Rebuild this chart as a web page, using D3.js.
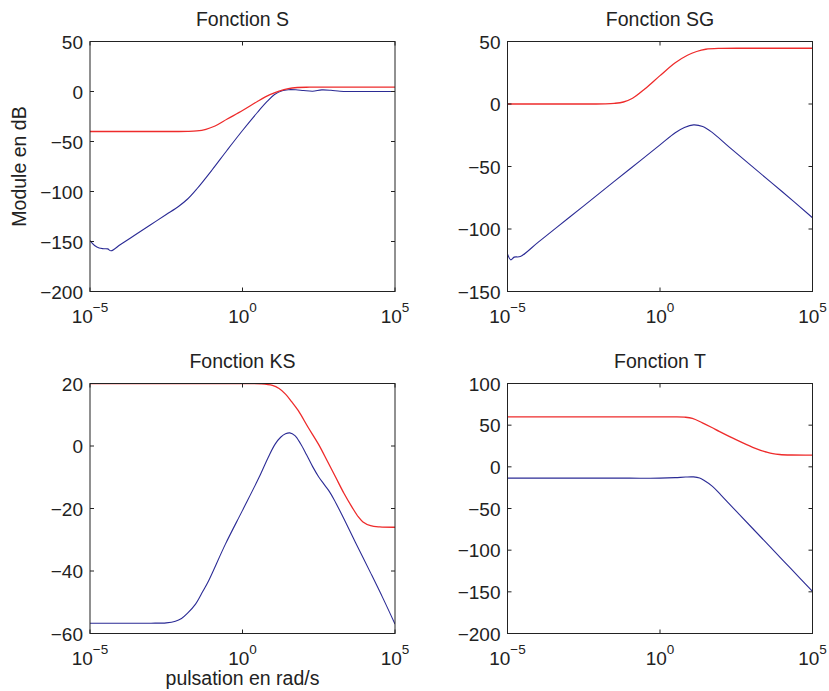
<!DOCTYPE html>
<html>
<head>
<meta charset="utf-8">
<script src="https://cdn.jsdelivr.net/npm/d3@7"></script>
<style>
  html, body { margin: 0; padding: 0; background: #fff; }
  svg { display: block; }
  text { font-family: "Liberation Sans", Arial, Helvetica, sans-serif; fill: #222; }
</style>
</head>
<body>
<script>
// ---- Data: [log10(pulsation), module in dB] ----
const sRed = [[-5,-40],[-4,-40],[-3,-40],[-2.2,-40],[-1.8,-39.9],[-1.5,-39.4],[-1.2,-37.8],[-0.9,-34.5],[-0.5,-27.5],[0,-19],[0.5,-9.8],[0.9,-3.2],[1.2,0.4],[1.5,2.9],[1.8,4],[2.2,4.3],[3,4.4],[4,4.4],[5,4.4]];
const sBlue = [[-5,-149],[-4.85,-154],[-4.7,-156.6],[-4.55,-157.2],[-4.42,-157.4],[-4.31,-159.3],[-4,-153],[-3.5,-143],[-3,-133],[-2.5,-123],[-2.1,-115],[-1.8,-107.5],[-1.5,-97.5],[-1,-78.5],[-0.5,-58.5],[0,-39],[0.5,-20.5],[0.8,-10.2],[1.05,-3],[1.3,0.8],[1.5,1.8],[1.75,1.7],[2,1],[2.3,0.3],[2.6,1.6],[2.9,1.2],[3.2,0.2],[3.6,0],[4.3,0],[5,0]];

const sgRed = [[-5,0],[-4,0],[-3,0],[-2.2,0],[-1.8,0.1],[-1.5,0.5],[-1.2,1.6],[-0.9,4.6],[-0.5,12],[0,22.7],[0.5,33],[0.9,39],[1.2,42],[1.5,43.8],[2,44.5],[3,44.6],[4,44.6],[5,44.6]];
const sgBlue = [[-5,-120],[-4.89,-124.7],[-4.78,-122.5],[-4.58,-122],[-4,-110.7],[-3,-91.2],[-2,-71.7],[-1,-52.2],[0,-32.7],[0.5,-23],[0.8,-18.8],[1.1,-16.7],[1.4,-18],[1.7,-22.5],[2.27,-34.5],[3,-49.5],[4,-70],[5,-91]];

const ksRed = [[-5,20],[-4,20],[-3,20],[-2,20],[-1,20],[0,20],[0.6,19.9],[0.98,19.4],[1.2,18.4],[1.41,16.6],[1.61,14.2],[1.83,11.3],[2.15,6],[2.49,0.6],[2.78,-4.8],[3.06,-10.1],[3.33,-15.2],[3.6,-19.7],[3.8,-22.7],[3.95,-24.3],[4.2,-25.5],[4.5,-25.9],[5,-26]];
const ksBlue = [[-5,-56.7],[-4,-56.7],[-3,-56.7],[-2.5,-56.6],[-2.2,-56.1],[-2,-55.2],[-1.8,-53.5],[-1.54,-50.6],[-1.3,-46.5],[-1.11,-43.1],[-0.56,-31.4],[0,-20.6],[0.54,-10.1],[0.85,-3.5],[1.07,0.6],[1.25,2.8],[1.41,3.9],[1.55,4.2],[1.72,3.3],[1.9,0.8],[2.1,-2.8],[2.3,-6.6],[2.5,-9.9],[2.7,-12.6],[2.85,-14.6],[3,-17.1],[3.3,-22.8],[3.7,-30.8],[4.2,-40.6],[4.6,-48.6],[5,-57]];

const tRed = [[-5,60],[-4,60],[-3,60],[-2,60],[-1,60],[0,60],[0.5,60],[0.8,59.6],[1.06,58.2],[1.39,52.8],[1.7,47.2],[1.94,42.6],[2.49,32.6],[3.04,23.4],[3.3,19.8],[3.48,17.8],[3.7,15.8],[3.92,14.8],[4.3,14.2],[5,14]];
const tBlue = [[-5,-13.6],[-4,-13.6],[-3,-13.6],[-2,-13.6],[-1,-13.6],[0,-13.6],[0.5,-13],[0.84,-12.2],[1.1,-12.1],[1.3,-13.5],[1.45,-16.5],[1.72,-23.4],[2,-34],[2.49,-52.9],[3,-72.5],[3.59,-95.2],[4.3,-122.5],[5,-149.5]];

// ---- Axes ticks and labels ----
const xTickExps = [-5, 0, 5];
const sYTicks = [-200, -150, -100, -50, 0, 50];
const sgYTicks = [-150, -100, -50, 0, 50];
const ksYTicks = [-60, -40, -20, 0, 20];
const tYTicks = [-200, -150, -100, -50, 0, 50, 100];
const titles = ["Fonction S", "Fonction SG", "Fonction KS", "Fonction T"];
const yLabel = "Module en dB";
const xLabel = "pulsation en rad/s";

const W = 829, H = 691;
const plotW = 305, plotH = 250;
const panels = [
  { title: titles[0], left: 90,    top: 41.5,  ticks: sYTicks,  red: sRed,  blue: sBlue },
  { title: titles[1], left: 507.5, top: 41.5,  ticks: sgYTicks, red: sgRed, blue: sgBlue },
  { title: titles[2], left: 90,    top: 383.5, ticks: ksYTicks, red: ksRed, blue: ksBlue },
  { title: titles[3], left: 507.5, top: 383.5, ticks: tYTicks,  red: tRed,  blue: tBlue }
];

const svg = d3.select("body").append("svg").attr("width", W).attr("height", H);
svg.append("rect").attr("width", W).attr("height", H).attr("fill", "#fff");

const fmt = d3.format("");
const tickLen = 4;

panels.forEach((p, i) => {
  const x = d3.scaleLog().domain([1e-5, 1e5]).range([p.left, p.left + plotW]);
  const y = d3.scaleLinear().domain(d3.extent(p.ticks)).range([p.top + plotH, p.top]);
  const g = svg.append("g");

  const clipId = "clip" + i;
  svg.append("clipPath").attr("id", clipId).append("rect")
    .attr("x", p.left).attr("y", p.top).attr("width", plotW).attr("height", plotH);

  const line = d3.line()
    .x(d => x(Math.pow(10, d[0])))
    .y(d => y(d[1]))
    .curve(d3.curveCatmullRom.alpha(0.5));

  g.append("path").datum(p.blue).attr("d", line)
    .attr("fill", "none").attr("stroke", "#2b2b95").attr("stroke-width", 1.1)
    .attr("clip-path", `url(#${clipId})`);
  g.append("path").datum(p.red).attr("d", line)
    .attr("fill", "none").attr("stroke", "#ee2b2b").attr("stroke-width", 1.3)
    .attr("clip-path", `url(#${clipId})`);

  // ticks (inside, mirrored)
  const ty = p.ticks;
  g.selectAll(".yl").data(ty).join("line")
    .attr("x1", p.left).attr("x2", p.left + tickLen)
    .attr("y1", d => y(d)).attr("y2", d => y(d)).attr("stroke", "#222");
  g.selectAll(".yr").data(ty).join("line")
    .attr("x1", p.left + plotW).attr("x2", p.left + plotW - tickLen)
    .attr("y1", d => y(d)).attr("y2", d => y(d)).attr("stroke", "#222");
  g.selectAll(".xb").data(xTickExps).join("line")
    .attr("x1", d => x(Math.pow(10, d))).attr("x2", d => x(Math.pow(10, d)))
    .attr("y1", p.top + plotH).attr("y2", p.top + plotH - tickLen).attr("stroke", "#222");
  g.selectAll(".xt").data(xTickExps).join("line")
    .attr("x1", d => x(Math.pow(10, d))).attr("x2", d => x(Math.pow(10, d)))
    .attr("y1", p.top).attr("y2", p.top + tickLen).attr("stroke", "#222");

  // frame
  g.append("rect").attr("x", p.left).attr("y", p.top)
    .attr("width", plotW).attr("height", plotH)
    .attr("fill", "none").attr("stroke", "#222").attr("stroke-width", 1);

  // y tick labels
  g.selectAll(".ytl").data(ty).join("text")
    .attr("x", p.left - 7).attr("y", d => y(d)).attr("dy", "0.37em")
    .attr("text-anchor", "end").attr("font-size", 19)
    .text(d => d < 0 ? "\u2212" + fmt(-d) : fmt(d));

  // x tick labels (10^n)
  const xl = g.selectAll(".xtl").data(xTickExps).join("text")
    .attr("x", d => x(Math.pow(10, d))).attr("y", p.top + plotH + 31)
    .attr("text-anchor", "middle").attr("font-size", 19);
  xl.append("tspan").text("10");
  xl.append("tspan").attr("dy", -11).attr("font-size", 13.5)
    .text(d => d < 0 ? "\u2212" + (-d) : String(d));

  // title
  g.append("text").attr("x", p.left + plotW / 2).attr("y", p.top - 15.5)
    .attr("text-anchor", "middle").attr("font-size", 19.5).text(p.title);
});

// axis labels
svg.append("text").attr("transform", "translate(26," + (41.5 + plotH / 2) + ") rotate(-90)")
  .attr("text-anchor", "middle").attr("font-size", 19.5).text(yLabel);
svg.append("text").attr("x", 90 + plotW / 2).attr("y", 685)
  .attr("text-anchor", "middle").attr("font-size", 19.5).text(xLabel);
</script>
</body>
</html>
